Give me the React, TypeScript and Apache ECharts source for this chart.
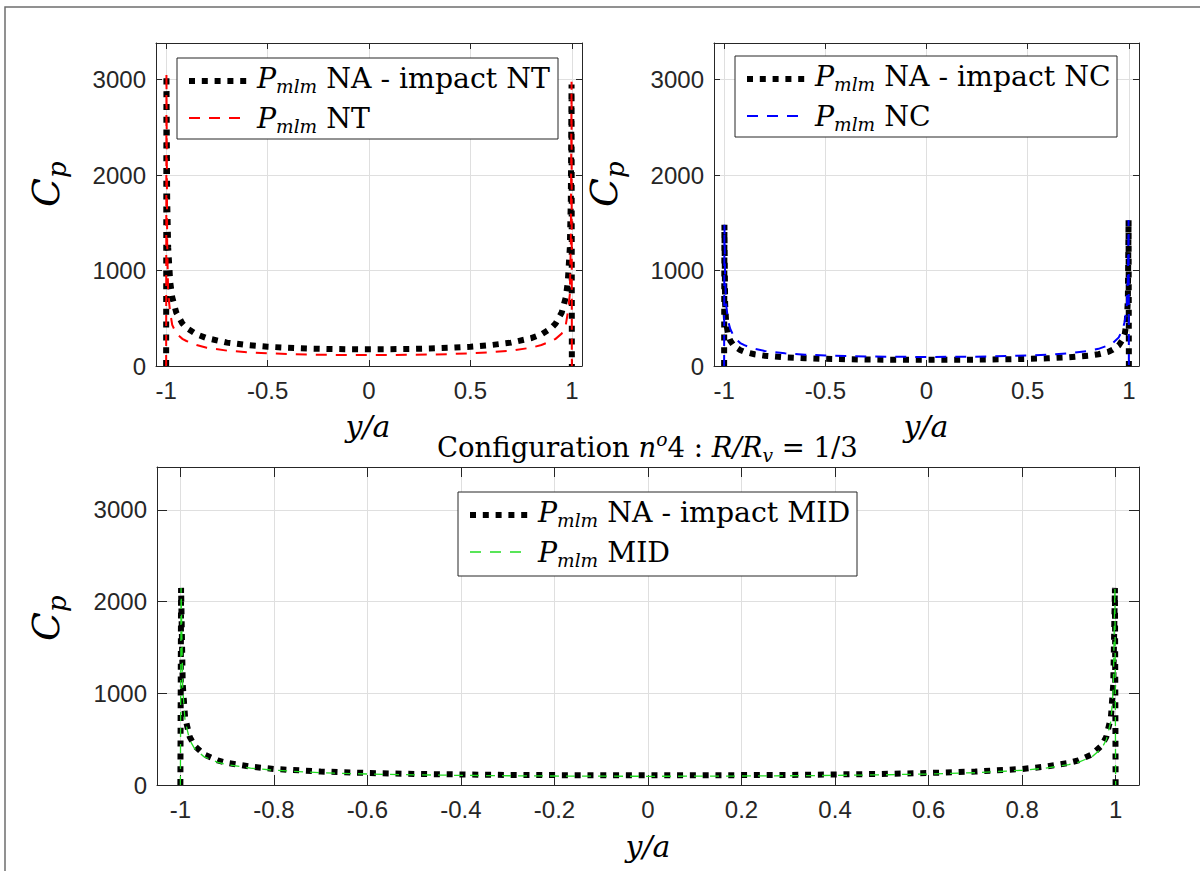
import React, { useEffect, useRef } from 'react';
import * as echarts from 'echarts';

// ---------------- DATA ----------------
const Y_OVER_A = [
  -1, -0.9985, -0.995, -0.99, -0.98, -0.97, -0.95, -0.92, -0.9, -0.85, -0.8, -0.7, -0.6, -0.5, -0.4, -0.3, -0.2, -0.1,
  0, 0.1, 0.2, 0.3, 0.4, 0.5, 0.6, 0.7, 0.8, 0.85, 0.9, 0.92, 0.95, 0.97, 0.98, 0.99, 0.995, 0.9985, 1,
];

// Top-left: NT
const NA_IMPACT_NT = [
  0, 3050, 1750, 1240, 880, 720, 560, 446, 400, 332, 292, 245, 219, 202, 191, 183, 179, 176,
  175, 176, 179, 183, 191, 202, 219, 245, 292, 332, 400, 446, 560, 720, 880, 1240, 1750, 2950, 0,
];
const PMLM_NT = [
  0, 3080, 1300, 750, 560, 430, 340, 285, 262, 220, 192, 161, 144, 133, 125, 120, 117, 115,
  115, 115, 117, 120, 125, 133, 144, 161, 192, 220, 262, 285, 340, 430, 560, 750, 1300, 2980, 0,
];

// Top-right: NC
const NA_IMPACT_NC = [
  0, 1480, 650, 460, 327, 267, 208, 166, 149, 123, 108, 91, 81, 75, 71, 68, 66, 65,
  65, 65, 66, 68, 71, 75, 81, 91, 108, 123, 149, 170, 215, 280, 340, 480, 700, 1530, 0,
];
const PMLM_NC = [
  0, 1480, 900, 640, 470, 390, 300, 240, 218, 180, 158, 133, 119, 110, 104, 100, 97, 96,
  95, 96, 97, 100, 104, 110, 119, 133, 158, 180, 218, 240, 300, 390, 470, 640, 900, 1530, 0,
];

// Bottom: MID
const NA_IMPACT_MID = [
  0, 2150, 1100, 740, 525, 430, 335, 268, 241, 200, 175, 147, 131, 121, 115, 110, 108, 106,
  105, 106, 108, 110, 115, 121, 131, 147, 175, 200, 241, 268, 335, 430, 525, 740, 1100, 2150, 0,
];
const PMLM_MID = [
  0, 2150, 1050, 700, 490, 400, 310, 248, 222, 184, 161, 134, 120, 111, 105, 101, 98, 96,
  95, 96, 98, 101, 105, 111, 120, 134, 161, 184, 222, 248, 310, 400, 490, 700, 1050, 2150, 0,
];

const X_TICKS_TOP = [-1, -0.5, 0, 0.5, 1];
const X_TICKS_BOTTOM = [-1, -0.8, -0.6, -0.4, -0.2, 0, 0.2, 0.4, 0.6, 0.8, 1];
const Y_TICKS = [0, 1000, 2000, 3000];

const LEGEND_TL = ['NA - impact NT', 'NT'];
const LEGEND_TR = ['NA - impact NC', 'NC'];
const LEGEND_B = ['NA - impact MID', 'MID'];

// ---------------- STYLE HELPERS ----------------
const SERIF = '"DejaVu Serif", "Liberation Serif", serif';
const SANS = '"Liberation Sans", Arial, Helvetica, sans-serif';
const AXIS_COLOR = '#262626';
const GRID_COLOR = '#dfdfdf';

const DOT = [6, 6.8];
const DASH = [11, 9];

type Seg = { t: string; s: number; it?: boolean; dy?: number };

let mctx: CanvasRenderingContext2D | null = null;
function measure(t: string, size: number, italic: boolean) {
  if (!mctx) mctx = document.createElement('canvas').getContext('2d');
  mctx!.font = `${italic ? 'italic ' : ''}${size}px ${SERIF}`;
  return mctx!.measureText(t).width;
}

function segWidth(segs: Seg[], scale: number) {
  let w = 0;
  for (const g of segs) w += measure(g.t, g.s * scale, !!g.it);
  return w;
}

function lineEls(x0: number, baseline: number, segs: Seg[], scale: number, z = 100) {
  const els: any[] = [];
  let x = x0;
  for (const g of segs) {
    const size = g.s * scale;
    const lead = g.t.length - g.t.replace(/^\s+/, '').length;
    const leadW = lead ? measure(g.t.slice(0, lead), size, !!g.it) : 0;
    const txt = g.t.trim();
    if (txt) {
      els.push({
        type: 'text',
        z,
        x: x + leadW,
        y: baseline + (g.dy || 0) * scale - 0.35 * size,
        style: {
          text: txt,
          font: `${g.it ? 'italic ' : ''}${size}px ${SERIF}`,
          fill: '#000',
          align: 'left',
          verticalAlign: 'middle',
        },
      });
    }
    x += measure(g.t, size, !!g.it);
  }
  return els;
}

function legendBox(
  x: number, y: number, w: number, h: number, labels: string[], colors: string[], scale: number
) {
  const els: any[] = [];
  els.push({
    type: 'rect', z: 100,
    shape: { x, y, width: w, height: h },
    style: { fill: '#fff', stroke: AXIS_COLOR, lineWidth: 1 },
  });
  const rows = [
    { ly: y + 23, by: y + 30, color: colors[0], width: 6, dash: DOT },
    { ly: y + 60, by: y + 70, color: colors[1], width: colors[1] === '#22dd22' ? 1.3 : 2, dash: DASH },
  ];
  rows.forEach((r, i) => {
    els.push({
      type: 'line', z: 101,
      shape: { x1: x + 12, y1: r.ly, x2: x + 72, y2: r.ly },
      style: { stroke: r.color, lineWidth: r.width, lineDash: r.dash, lineCap: 'butt' },
    });
    const segs: Seg[] = [
      { t: 'P', s: 29, it: true },
      { t: 'mlm', s: 19, it: true, dy: 5 },
      { t: ' ' + labels[i], s: 29 },
    ];
    els.push(...lineEls(x + 80, r.by, segs, scale, 102));
  });
  return els;
}

function rotatedLabel(x: number, y: number, segs: Seg[]) {
  return {
    type: 'group',
    x,
    y,
    rotation: Math.PI / 2,
    children: lineEls(0, 0, segs, 1, 50),
  };
}

function pairs(ys: number[]) {
  return Y_OVER_A.map((x, i) => [x, ys[i]]);
}

function buildOption() {
  const grids = [
    { left: 156, top: 43, width: 426, height: 323, ymax: 3385, xt: X_TICKS_TOP, tl: 6 },
    { left: 714, top: 43, width: 425, height: 323, ymax: 3385, xt: X_TICKS_TOP, tl: 6 },
    { left: 157, top: 467, width: 982, height: 318, ymax: 3469, xt: X_TICKS_BOTTOM, tl: 10 },
  ];
  const fmt = (v: number) => String(v);
  const xAxis: any[] = [];
  const yAxis: any[] = [];
  grids.forEach((g, i) => {
    xAxis.push({
      type: 'value', gridIndex: i, min: -1.05, max: 1.05, position: 'bottom',
      axisLine: { show: true, onZero: false, lineStyle: { color: AXIS_COLOR, width: 1 } },
      axisTick: { show: true, inside: true, length: g.tl, customValues: g.xt, lineStyle: { color: AXIS_COLOR } },
      axisLabel: { show: true, customValues: g.xt, formatter: fmt, color: AXIS_COLOR, fontSize: 24, fontFamily: SANS, margin: 12 },
      splitLine: { show: true, lineStyle: { color: GRID_COLOR, width: 1 } },
    });
    xAxis.push({
      type: 'value', gridIndex: i, min: -1.05, max: 1.05, position: 'top',
      axisLine: { show: true, onZero: false, lineStyle: { color: AXIS_COLOR, width: 1 } },
      axisTick: { show: true, inside: true, length: g.tl, customValues: g.xt, lineStyle: { color: AXIS_COLOR } },
      axisLabel: { show: false },
      splitLine: { show: false },
    });
    yAxis.push({
      type: 'value', gridIndex: i, min: 0, max: g.ymax, position: 'left',
      axisLine: { show: true, onZero: false, lineStyle: { color: AXIS_COLOR, width: 1 } },
      axisTick: { show: true, inside: true, length: g.tl, customValues: Y_TICKS, lineStyle: { color: AXIS_COLOR } },
      axisLabel: { show: true, customValues: Y_TICKS, formatter: fmt, color: AXIS_COLOR, fontSize: 24, fontFamily: SANS, margin: 10 },
      splitLine: { show: true, lineStyle: { color: GRID_COLOR, width: 1 } },
    });
    yAxis.push({
      type: 'value', gridIndex: i, min: 0, max: g.ymax, position: 'right',
      axisLine: { show: true, onZero: false, lineStyle: { color: AXIS_COLOR, width: 1 } },
      axisTick: { show: true, inside: true, length: g.tl, customValues: Y_TICKS, lineStyle: { color: AXIS_COLOR } },
      axisLabel: { show: false },
      splitLine: { show: false },
    });
  });

  const mk = (name: string, gi: number, ys: number[], color: string, width: number, dash: number[]) => ({
    name,
    type: 'line',
    xAxisIndex: gi * 2,
    yAxisIndex: gi * 2,
    data: pairs(ys),
    showSymbol: false,
    symbol: 'none',
    lineStyle: { color, width, type: dash, cap: 'butt', join: 'miter' },
    silent: true,
  });

  const series = [
    mk('NA - impact NT', 0, NA_IMPACT_NT, '#000', 6, DOT),
    mk('NT', 0, PMLM_NT, '#ff0000', 2, DASH),
    mk('NA - impact NC', 1, NA_IMPACT_NC, '#000', 6, DOT),
    mk('NC', 1, PMLM_NC, '#0000ff', 2, DASH),
    mk('NA - impact MID', 2, NA_IMPACT_MID, '#000', 6, DOT),
    mk('MID', 2, PMLM_MID, '#22dd22', 1.3, [9, 7]),
  ];

  // legend font scale: first row of the NT legend spans ~293 px
  const refSegs: Seg[] = [
    { t: 'P', s: 29, it: true },
    { t: 'mlm', s: 19, it: true, dy: 5 },
    { t: ' ' + LEGEND_TL[0], s: 29 },
  ];
  const lscale = 293 / segWidth(refSegs, 1);

  const titleSegs: Seg[] = [
    { t: 'Configuration ', s: 25 },
    { t: 'n', s: 25, it: true },
    { t: 'o', s: 17, it: true, dy: -10 },
    { t: '4 : ', s: 25 },
    { t: 'R/R', s: 25, it: true },
    { t: 'v', s: 17, it: true, dy: 5 },
    { t: ' = 1/3', s: 25 },
  ];
  const tscale = 421 / segWidth(titleSegs, 1);

  const cp: Seg[] = [
    { t: 'C', s: 38, it: true },
    { t: 'p', s: 26, it: true, dy: 7 },
  ];

  const yaText = (x: number, y: number) => ({
    type: 'text', z: 50, x, y,
    style: { text: 'y/a', font: `italic 30px ${SERIF}`, fill: '#000', align: 'center', verticalAlign: 'middle' },
  });

  const graphic: any[] = [
    {
      type: 'rect', z: 0,
      shape: { x: 5, y: 7, width: 1400, height: 1000 },
      style: { fill: 'none', stroke: '#6e6e6e', lineWidth: 1.5 },
    },
    ...legendBox(177, 58, 381, 81, LEGEND_TL, ['#000', '#ff0000'], lscale),
    ...legendBox(735, 56, 382, 81, LEGEND_TR, ['#000', '#0000ff'], lscale),
    ...legendBox(458, 492, 399, 84, LEGEND_B, ['#000', '#22dd22'], lscale),
    ...lineEls(437, 457, titleSegs, tscale, 50),
    rotatedLabel(59, 207, cp),
    rotatedLabel(617, 207, cp),
    rotatedLabel(59, 641, cp),
    yaText(368, 426),
    yaText(926, 426),
    yaText(648, 846),
  ];

  return {
    animation: false,
    backgroundColor: '#fff',
    grid: grids.map((g) => ({ left: g.left, top: g.top, width: g.width, height: g.height, containLabel: false })),
    xAxis,
    yAxis,
    series,
    graphic,
  };
}

export default function App() {
  const ref = useRef<HTMLDivElement>(null);
  useEffect(() => {
    const chart = echarts.init(ref.current!, null, { renderer: 'svg' });
    chart.setOption(buildOption() as any);
    return () => chart.dispose();
  }, []);
  return (
    <div
      ref={ref}
      style={{ position: 'fixed', left: 0, top: 0, width: 1200, height: 871, background: '#fff' }}
    />
  );
}
